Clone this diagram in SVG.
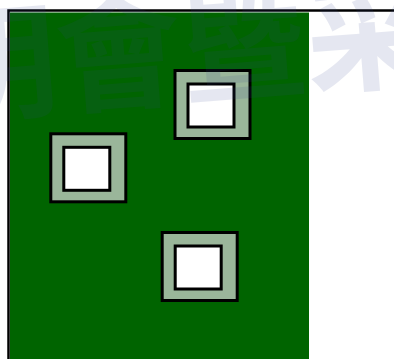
<svg xmlns="http://www.w3.org/2000/svg" width="394" height="359" viewBox="0 0 394 359">
  <style>
    .outer { fill: #9ab69a; stroke: #000; stroke-width: 3; }
    .inner { fill: #ffffff; stroke: #000; stroke-width: 3; }
    .wm { font-family: "Noto Sans CJK TC", "Noto Sans CJK SC", sans-serif; font-size: 125px; font-weight: bold; fill: #34458f; opacity: 0.12; }
  </style>
  <rect x="0" y="0" width="394" height="359" fill="#ffffff"/>
  <g id="frame">
    <rect x="8.5" y="10.5" width="420" height="380" fill="none" stroke="#000" stroke-width="2.5"/>
    <rect x="10" y="12.5" width="299" height="360" fill="#006400"/>
  </g>
  <g id="node1">
    <rect class="outer" x="175" y="70.5" width="75" height="68"/>
    <rect class="inner" x="188" y="84" width="46" height="43"/>
  </g>
  <g id="node2">
    <rect class="outer" x="50.8" y="133.8" width="75" height="68"/>
    <rect class="inner" x="63.8" y="147.3" width="46" height="43"/>
  </g>
  <g id="node3">
    <rect class="outer" x="162.2" y="232.5" width="75" height="68"/>
    <rect class="inner" x="175.2" y="246" width="46" height="43"/>
  </g>
  <g id="connectors"></g>
  <g id="watermark" transform="rotate(-4.5 200 60)">
    <text class="wm" x="-68" y="94">明會暨采</text>
  </g>
</svg>
